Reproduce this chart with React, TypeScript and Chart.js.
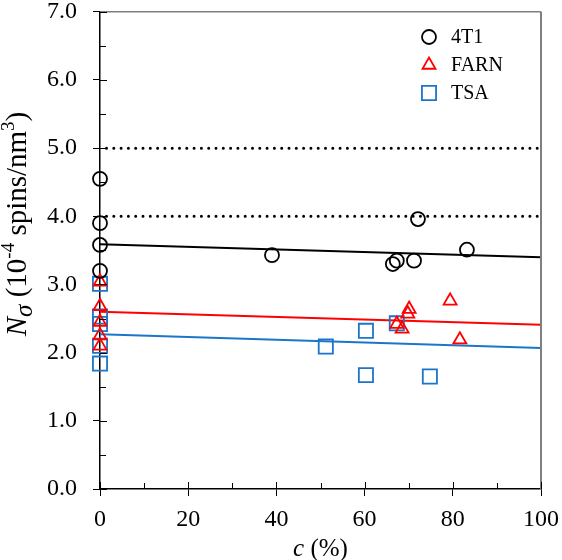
import React, { useEffect, useRef } from 'react';
import { Chart, registerables } from 'chart.js';
import { drawPoint } from 'chart.js/helpers';

Chart.register(...registerables);

// Spin density N_sigma (10^-4 spins/nm^3) against c (%)
const C_4T1 = [0, 0, 0, 0, 39, 66.4, 67.3, 71.2, 72.1, 83.2];
const N_4T1 = [4.55, 3.9, 3.58, 3.2, 3.43, 3.3, 3.35, 3.35, 3.96, 3.51];

const C_FARN = [0, 0, 0, 0, 0, 67.3, 68.5, 69.8, 70.1, 79.4, 81.6];
const N_FARN = [3.04, 2.68, 2.45, 2.25, 2.1, 2.42, 2.35, 2.57, 2.64, 2.76, 2.19];

const C_TSA = [0, 0, 0, 0, 0, 51.2, 60.3, 60.3, 67.3, 74.8];
const N_TSA = [3.01, 2.53, 2.42, 2.1, 1.84, 2.09, 2.32, 1.67, 2.43, 1.65];

// Linear fits, evaluated at the ends of the c range
const FIT_C = [0, 100];
const FIT_4T1 = [3.59, 3.4];
const FIT_FARN = [2.6, 2.41];
const FIT_TSA = [2.27, 2.07];

// Dotted reference levels
const REF_LEVELS = [5.0, 4.0];

const SERIES_NAMES = ['4T1', 'FARN', 'TSA'];

const BLACK = '#000000';
const RED = '#ff0000';
const BLUE = '#1b76c9';
const FRAME = '#7f7f7f';
const SERIF = "'Liberation Serif', 'Times New Roman', serif";

const toPoints = (xs: number[], ys: number[]) => xs.map((x, i) => ({ x, y: ys[i] }));

type Part = { text: string; italic?: boolean; scale?: number; dy?: number };

function drawRich(ctx: CanvasRenderingContext2D, parts: Part[], size: number, cx: number, cy: number) {
  const fontOf = (p: Part) =>
    `${p.italic ? 'italic ' : ''}${Math.round(size * (p.scale ?? 1))}px ${SERIF}`;
  let total = 0;
  const widths = parts.map((p) => {
    ctx.font = fontOf(p);
    const w = ctx.measureText(p.text).width;
    total += w;
    return w;
  });
  let x = cx - total / 2;
  ctx.textBaseline = 'alphabetic';
  ctx.textAlign = 'left';
  parts.forEach((p, i) => {
    ctx.font = fontOf(p);
    ctx.fillText(p.text, x, cy + (p.dy ?? 0) * size);
    x += widths[i];
  });
}

const framePlugin = {
  id: 'frame',
  afterDraw(chart: any) {
    const { ctx, chartArea } = chart;
    const { left, right, top, bottom } = chartArea;
    const xs = chart.scales.x;
    const ys = chart.scales.y;
    ctx.save();
    // top and right border
    ctx.strokeStyle = FRAME;
    ctx.lineWidth = 1.5;
    ctx.beginPath();
    ctx.moveTo(left, top);
    ctx.lineTo(right, top);
    ctx.stroke();
    ctx.lineWidth = 2;
    ctx.beginPath();
    ctx.moveTo(right, top);
    ctx.lineTo(right, bottom);
    ctx.stroke();

    // inner halves of major ticks and inner minor ticks
    ctx.strokeStyle = BLACK;
    ctx.lineWidth = 1;
    ctx.beginPath();
    for (let v = 0; v <= 100; v += 10) {
      const px = Math.round(xs.getPixelForValue(v)) + 0.5;
      const len = v % 20 === 0 ? 7 : 6;
      ctx.moveTo(px, bottom);
      ctx.lineTo(px, bottom - len);
    }
    for (let v = 0; v <= 7; v += 0.5) {
      const py = Math.round(ys.getPixelForValue(v)) + 0.5;
      const len = Number.isInteger(v) ? 7 : 6;
      ctx.moveTo(left, py);
      ctx.lineTo(left + len, py);
    }
    ctx.stroke();

    // axis titles
    ctx.fillStyle = BLACK;
    drawRich(
      ctx,
      [{ text: 'c', italic: true }, { text: ' (%)' }],
      25,
      (left + right) / 2,
      556
    );
    ctx.save();
    ctx.translate(26, 224);
    ctx.rotate(-Math.PI / 2);
    drawRich(
      ctx,
      [
        { text: 'N', italic: true },
        { text: 'σ', italic: true, scale: 0.85, dy: 0.22 },
        { text: ' (10' },
        { text: '-4', scale: 0.65, dy: -0.4 },
        { text: ' spins/nm' },
        { text: '3', scale: 0.65, dy: -0.4 },
        { text: ')' },
      ],
      29,
      0,
      0
    );
    ctx.restore();
    ctx.restore();
  },
};

const legendPlugin = {
  id: 'seriesKey',
  afterDraw(chart: any) {
    const { ctx } = chart;
    ctx.save();
    SERIES_NAMES.forEach((name, i) => {
      const ds = chart.data.datasets[i];
      const y = 37 + i * 28;
      ctx.strokeStyle = ds.borderColor;
      ctx.fillStyle = 'rgba(0,0,0,0)';
      ctx.lineWidth = ds.pointBorderWidth;
      drawPoint(ctx, { pointStyle: ds.pointStyle, radius: ds.pointRadius, rotation: 0, borderWidth: ds.pointBorderWidth }, 429, y);
      ctx.fillStyle = BLACK;
      ctx.font = `20px ${SERIF}`;
      ctx.textAlign = 'left';
      ctx.textBaseline = 'middle';
      ctx.fillText(name, 451, y + 1);
    });
    ctx.restore();
  },
};

export default function App() {
  const ref = useRef<HTMLCanvasElement | null>(null);

  useEffect(() => {
    const canvas = ref.current;
    if (!canvas) return;

    const scatterSet = (label: string, xs: number[], ys: number[], color: string, style: string, radius: number) => ({
      type: 'scatter' as const,
      label,
      data: toPoints(xs, ys),
      borderColor: color,
      backgroundColor: 'rgba(0,0,0,0)',
      pointStyle: style,
      pointRadius: radius,
      pointBorderWidth: 1.8,
      showLine: false,
      clip: false as const,
    });
    const lineSet = (label: string, ys: number[], color: string) => ({
      type: 'line' as const,
      label,
      data: toPoints(FIT_C, ys),
      borderColor: color,
      borderWidth: 2,
      pointRadius: 0,
      fill: false,
    });
    const refSet = (level: number) => ({
      type: 'line' as const,
      label: `ref ${level}`,
      data: toPoints(FIT_C, [level, level]),
      borderColor: BLACK,
      borderWidth: 3,
      borderDash: [0, 7.3],
      borderDashOffset: -6.5,
      borderCapStyle: 'round' as const,
      pointRadius: 0,
      fill: false,
    });

    const chart = new Chart(canvas, {
      type: 'scatter',
      data: {
        datasets: [
          scatterSet('4T1', C_4T1, N_4T1, BLACK, 'circle', 7),
          scatterSet('FARN', C_FARN, N_FARN, RED, 'triangle', 7.5),
          scatterSet('TSA', C_TSA, N_TSA, BLUE, 'rect', 10),
          lineSet('4T1 fit', FIT_4T1, BLACK),
          lineSet('FARN fit', FIT_FARN, RED),
          lineSet('TSA fit', FIT_TSA, BLUE),
          ...REF_LEVELS.map(refSet),
        ] as any,
      },
      options: {
        responsive: false,
        animation: false,
        devicePixelRatio: 1,
        layout: { padding: { top: 10, right: 21, left: 0, bottom: 0 } },
        plugins: { legend: { display: false }, tooltip: { enabled: false } },
        scales: {
          x: {
            type: 'linear',
            min: 0,
            max: 100,
            ticks: { stepSize: 20, color: BLACK, font: { family: SERIF, size: 24 }, padding: 9, maxRotation: 0 },
            grid: { drawOnChartArea: false, tickLength: 7, color: BLACK, lineWidth: 1 },
            border: { color: BLACK, width: 1.5 },
            afterFit: (s: any) => {
              s.height = 71;
              s.paddingLeft = 0;
              s.paddingRight = 0;
            },
          },
          y: {
            type: 'linear',
            min: 0,
            max: 7,
            ticks: {
              stepSize: 1,
              color: BLACK,
              font: { family: SERIF, size: 24 },
              padding: 16,
              callback: (v: any) => Number(v).toFixed(1),
            },
            grid: { drawOnChartArea: false, tickLength: 7, color: BLACK, lineWidth: 1 },
            border: { color: BLACK, width: 1.5 },
            afterFit: (s: any) => {
              s.width = 100;
              s.paddingTop = 0;
              s.paddingBottom = 0;
            },
          },
        },
      } as any,
      plugins: [framePlugin, legendPlugin],
    });

    return () => chart.destroy();
  }, []);

  return (
    <div style={{ position: 'fixed', left: 0, top: 0, width: 562, height: 560, background: '#fff' }}>
      <canvas ref={ref} width={562} height={560} style={{ width: 562, height: 560, display: 'block' }} />
    </div>
  );
}
